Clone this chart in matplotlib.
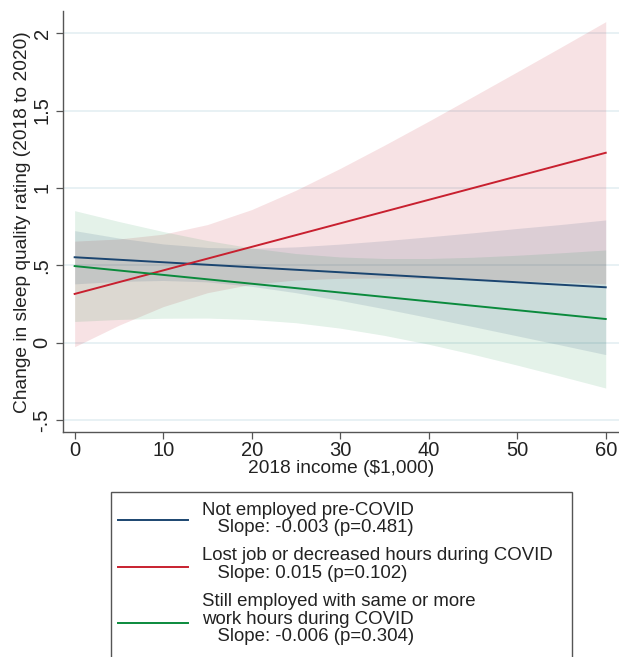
import matplotlib
matplotlib.use("Agg")
import matplotlib.pyplot as plt
from matplotlib.lines import Line2D
from matplotlib.patches import Rectangle

plt.rcParams['font.family'] = ['Liberation Sans', 'DejaVu Sans']

income = [0, 5, 10, 15, 20, 25, 30, 35, 40, 45, 50, 55, 60]

# fitted lines (value at 0 and at 60)
line_x = [0, 60]
fit_notemp = [0.552, 0.358]
fit_lost = [0.315, 1.227]
fit_still = [0.495, 0.153]

# 95% confidence bands
lo_notemp = [0.380, 0.396, 0.402, 0.393, 0.364, 0.323, 0.273, 0.219, 0.162, 0.104, 0.044, -0.016, -0.077]
hi_notemp = [0.724, 0.676, 0.638, 0.615, 0.610, 0.619, 0.637, 0.659, 0.684, 0.710, 0.738, 0.764, 0.793]
lo_lost = [-0.026, 0.113, 0.233, 0.323, 0.378, 0.405, 0.416, 0.418, 0.415, 0.408, 0.400, 0.391, 0.380]
hi_lost = [0.656, 0.670, 0.701, 0.763, 0.860, 0.985, 1.126, 1.276, 1.431, 1.590, 1.750, 1.911, 2.074]
lo_still = [0.137, 0.150, 0.158, 0.159, 0.150, 0.129, 0.094, 0.047, -0.010, -0.075, -0.145, -0.218, -0.293]
hi_still = [0.853, 0.783, 0.718, 0.660, 0.612, 0.576, 0.554, 0.544, 0.544, 0.552, 0.565, 0.581, 0.599]

legend_labels = [
    "Not employed pre-COVID\n   Slope: -0.003 (p=0.481)",
    "Lost job or decreased hours during COVID\n   Slope: 0.015 (p=0.102)",
    "Still employed with same or more\nwork hours during COVID\n   Slope: -0.006 (p=0.304)",
]

yticks = [-0.5, 0, 0.5, 1, 1.5, 2]
ytick_labels = ["-.5", "0", ".5", "1", "1.5", "2"]
xticks = [0, 10, 20, 30, 40, 50, 60]

c_blue = "#1b4570"
c_red = "#c8202f"
c_green = "#0a8a3c"

W, H = 619, 657
fig = plt.figure(figsize=(W / 100, H / 100), dpi=100)

def fx(px):
    return px / W

def fy(py):
    return 1 - py / H

ax = fig.add_axes([fx(62.7), fy(432.3), fx(619) - fx(62.7), fy(11) - fy(432.3)])

# bands
ax.fill_between(income, lo_lost, hi_lost, color=c_red, alpha=0.13, lw=0)
ax.fill_between(income, lo_still, hi_still, color=c_green, alpha=0.11, lw=0)
ax.fill_between(income, lo_notemp, hi_notemp, color=c_blue, alpha=0.12, lw=0)

# lines
ax.plot(line_x, fit_notemp, color=c_blue, lw=1.4)
ax.plot(line_x, fit_lost, color=c_red, lw=1.4)
ax.plot(line_x, fit_still, color=c_green, lw=1.4)

ax.set_xlim(-1.35, 61.5)
ax.set_ylim(-0.579, 2.143)
ax.set_yticks(yticks)
ax.set_yticklabels(ytick_labels, rotation=90, va="center")
ax.set_xticks(xticks)
for y in yticks:
    ax.axhline(y, color="#e6f0f3", lw=1.3, zorder=0)

for s in ["top", "right"]:
    ax.spines[s].set_visible(False)
for s in ["left", "bottom"]:
    ax.spines[s].set_color("#555555")
    ax.spines[s].set_linewidth(1.0)
ax.tick_params(axis="both", direction="out", length=5, width=0.9, color="#555555",
               labelsize=14.5, labelcolor="#222222")
ax.tick_params(axis="x", pad=1.5)
ax.tick_params(axis="y", pad=3)

ax.set_xlabel("2018 income ($1,000)", fontsize=13.8, color="#222222", labelpad=0)
ax.set_ylabel("Change in sleep quality rating (2018 to 2020)", fontsize=13.8,
              color="#222222", labelpad=1)

# legend box (runs off the bottom of the figure)
fig.add_artist(Rectangle((fx(110.7), fy(700)), fx(572.3) - fx(110.7), fy(492) - fy(700),
                         transform=fig.transFigure, fill=False, ec="#555555", lw=1.0))
leg_colors = [c_blue, c_red, c_green]
leg_line_y = [520, 566.7, 622.7]
leg_text_top = [502, 547.5, 593.5]
for col, ly, ty, lab in zip(leg_colors, leg_line_y, leg_text_top, legend_labels):
    fig.add_artist(Line2D([fx(118), fx(188)], [fy(ly), fy(ly)], color=col, lw=1.4,
                          transform=fig.transFigure))
    fig.text(fx(201.7), fy(ty), lab, fontsize=13.4, color="#222222", va="top",
             ha="left", linespacing=1.02)

fig.savefig("out.png", dpi=100)
